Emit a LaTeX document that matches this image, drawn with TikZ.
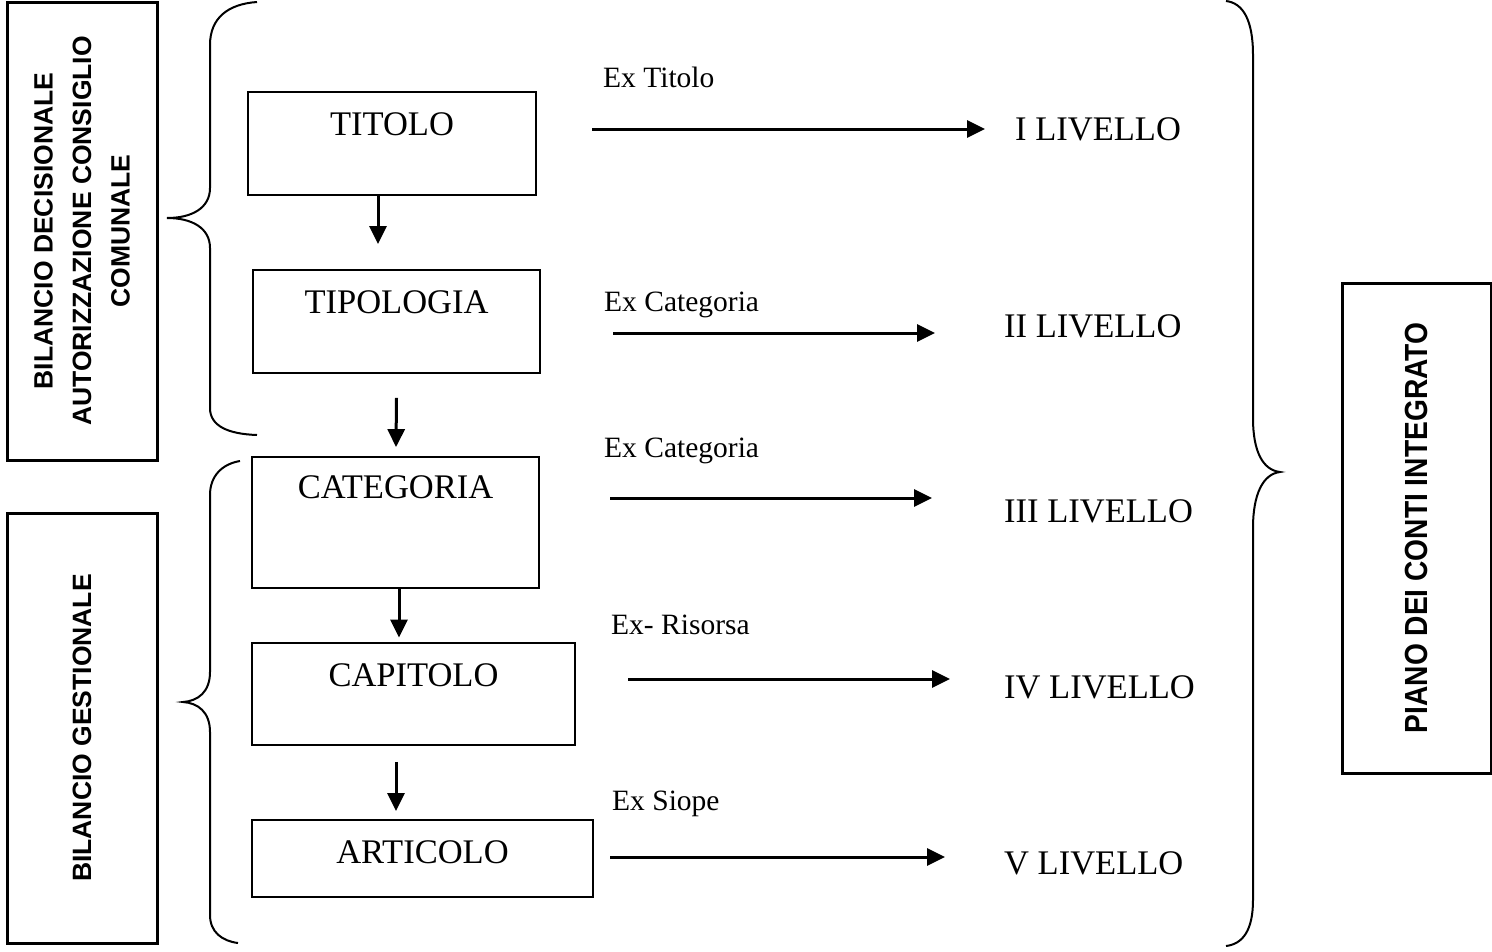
\documentclass[tikz,border=0pt]{standalone}
\usepackage{fontspec}
\setmainfont{Liberation Serif}
\setsansfont{Liberation Sans}
\usetikzlibrary{arrows.meta}
\begin{document}
\begin{tikzpicture}[x=1pt,y=-1pt,
  box/.style={draw, line width=1.8pt, inner sep=0pt},
  sidebox/.style={draw, line width=3pt, rotate=90, align=center, inner sep=0pt,
    font=\sffamily\bfseries\fontsize{26.5}{38.5}\selectfont},
  boxtext/.style={font=\fontsize{34.5}{40}\selectfont, inner sep=0pt, anchor=base, yshift=-44pt},
  small/.style={font=\fontsize{29.5}{34}\selectfont, inner sep=0pt, anchor=base west},
  level/.style={font=\fontsize{34.5}{40}\selectfont, inner sep=0pt, anchor=base west},
  flow/.style={line width=3pt, -{Triangle[length=18pt,width=17pt]}},
  brace/.style={line width=2pt}]
\useasboundingbox (0,0) rectangle (1492,951);

% side boxes
\node[sidebox, minimum width=458pt, minimum height=150pt] (dec) at (82,231)
  {BILANCIO DECISIONALE\\AUTORIZZAZIONE CONSIGLIO\\COMUNALE};
\node[sidebox, minimum width=430pt, minimum height=150pt] (ges) at (82,728)
  {BILANCIO GESTIONALE};
\node[sidebox, minimum width=490pt, minimum height=149pt,
  font=\sffamily\bfseries\fontsize{32}{38}\selectfont] (pdc) at (1416.5,528)
  {\scalebox{0.88}[1]{PIANO DEI CONTI INTEGRATO}};

% central boxes
\node[box, minimum width=288pt, minimum height=103pt,
  label={[boxtext]north:TITOLO}] (titolo) at (392,143.5) {};
\node[box, minimum width=287pt, minimum height=103pt,
  label={[boxtext]north:TIPOLOGIA}] (tipologia) at (396.5,321.5) {};
\node[box, minimum width=287pt, minimum height=131pt,
  label={[boxtext, yshift=2pt]north:CATEGORIA}] (categoria) at (395.5,522.5) {};
\node[box, minimum width=323pt, minimum height=102pt,
  label={[boxtext]north:CAPITOLO}] (capitolo) at (413.5,694) {};
\node[box, minimum width=341pt, minimum height=77pt,
  label={[boxtext]north:ARTICOLO}] (articolo) at (422.5,858.5) {};

% vertical arrows
\draw[flow] ([xshift=-14pt]titolo.south) -- ([xshift=-18.5pt,yshift=25pt]tipologia.north);
\draw[flow] ([yshift=-24pt]tipologia.south) -- ([xshift=0.5pt,yshift=9pt]categoria.north);
\draw[flow] ([xshift=3.5pt]categoria.south) -- ([xshift=-14.5pt,yshift=4.5pt]capitolo.north);
\draw[flow] ([xshift=-17.5pt,yshift=-16pt]capitolo.south) -- ([xshift=-26.5pt,yshift=8pt]articolo.north);

% level labels
\node[level] (l1) at (1015,140) {I LIVELLO};
\node[level] (l2) at (1004,337.5) {II LIVELLO};
\node[level] (l3) at (1004,522.5) {III LIVELLO};
\node[level] (l4) at (1004,698) {IV LIVELLO};
\node[level] (l5) at (1004,874) {V LIVELLO};

% small labels
\node[small] (x1) at (603,87) {Ex Titolo};
\node[small] (x2) at (604,311) {Ex Categoria};
\node[small] (x3) at (604,457) {Ex Categoria};
\node[small] (x4) at (611,634) {Ex- Risorsa};
\node[small] (x5) at (612,810) {Ex Siope};

% horizontal arrows
\coordinate (s1) at (592,129);   \coordinate (e1) at (985,129);
\coordinate (s2) at (613,333);   \coordinate (e2) at (935,333);
\coordinate (s3) at (610,498);   \coordinate (e3) at (932,498);
\coordinate (s4) at (628,679);   \coordinate (e4) at (950,679);
\coordinate (s5) at (610,857);   \coordinate (e5) at (945,857);
\foreach \i in {1,...,5} \draw[flow] (s\i) -- (e\i);

% braces
\draw[brace] (257,2) .. controls (228,4) and (210,18) .. (210,45)
  -- (210,188) .. controls (210,208) and (192,218) .. (167,218)
  .. controls (192,218) and (210,228) .. (210,248)
  -- (210,408) .. controls (210,426) and (228,434) .. (257,435);
\draw[brace] (240,461) .. controls (222,464) and (210,476) .. (210,495)
  -- (210,672) .. controls (210,692) and (198,701) .. (183,702)
  .. controls (198,703) and (210,712) .. (210,732)
  -- (210,915) .. controls (210,932) and (222,941) .. (238,943);
\draw[brace] (1226,1) .. controls (1243,3) and (1253,20) .. (1253,55)
  -- (1253,418) .. controls (1253,452) and (1263,470) .. (1280,472)
  .. controls (1263,474) and (1253,494) .. (1253,528)
  -- (1253,900) .. controls (1253,930) and (1243,944) .. (1226,946);
\end{tikzpicture}
\end{document}
